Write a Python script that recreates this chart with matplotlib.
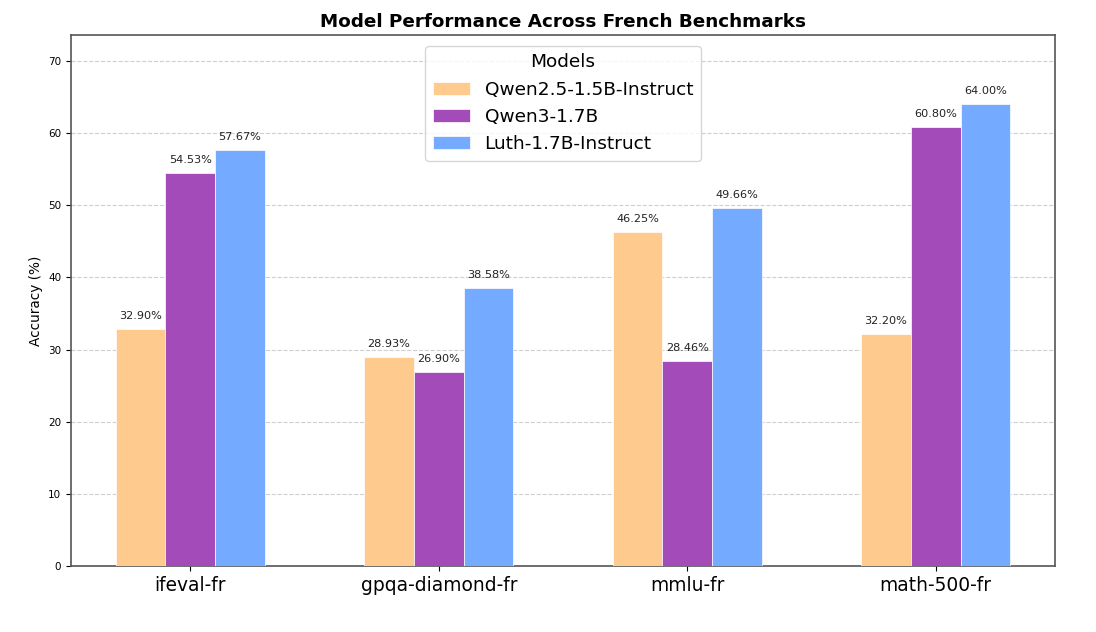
import matplotlib
matplotlib.use("Agg")
import matplotlib.pyplot as plt
import numpy as np

# Data
benchmarks = ["ifeval-fr", "gpqa-diamond-fr", "mmlu-fr", "math-500-fr"]
models = ["Qwen2.5-1.5B-Instruct", "Qwen3-1.7B", "Luth-1.7B-Instruct"]
qwen25 = [32.90, 28.93, 46.25, 32.20]
qwen3 = [54.53, 26.90, 28.46, 60.80]
luth = [57.67, 38.58, 49.66, 64.00]

colors = ["#FFCA8E", "#A34CB9", "#74AAFF"]

fig = plt.figure(figsize=(10.96, 6.32), dpi=100)
ax = fig.add_axes([0.0648, 0.1044, 0.8978, 0.8402])

x = np.arange(len(benchmarks))
width = 0.2
series = [qwen25, qwen3, luth]

for i, (name, vals) in enumerate(zip(models, series)):
    bars = ax.bar(x + (i - 1) * width, vals, width, label=name, color=colors[i],
                  edgecolor="white", linewidth=0.5, zorder=3)
    for bar, v in zip(bars, vals):
        ax.text(bar.get_x() + bar.get_width() / 2, bar.get_height() + 1.1,
                f"{v:.2f}%", ha="center", va="bottom", fontsize=8.1, color="#222222")

ax.set_ylim(0, max(luth) * 1.15)
ax.set_xticks(x)
ax.set_xticklabels(benchmarks, fontsize=13.4)
ax.tick_params(axis="y", labelsize=7.5)
ax.set_ylabel("Accuracy (%)", fontsize=9.8)
ax.set_title("Model Performance Across French Benchmarks", fontsize=13.2, fontweight="bold")
ax.grid(axis="y", linestyle="--", alpha=0.6, zorder=0)
ax.set_axisbelow(True)

for spine in ax.spines.values():
    spine.set_color("#555555")
    spine.set_linewidth(1.2)

leg = ax.legend(title="Models", loc="upper center", fontsize=13.3, title_fontsize=13.3,
                borderaxespad=0.6)

fig.savefig("out.png", dpi=100)
